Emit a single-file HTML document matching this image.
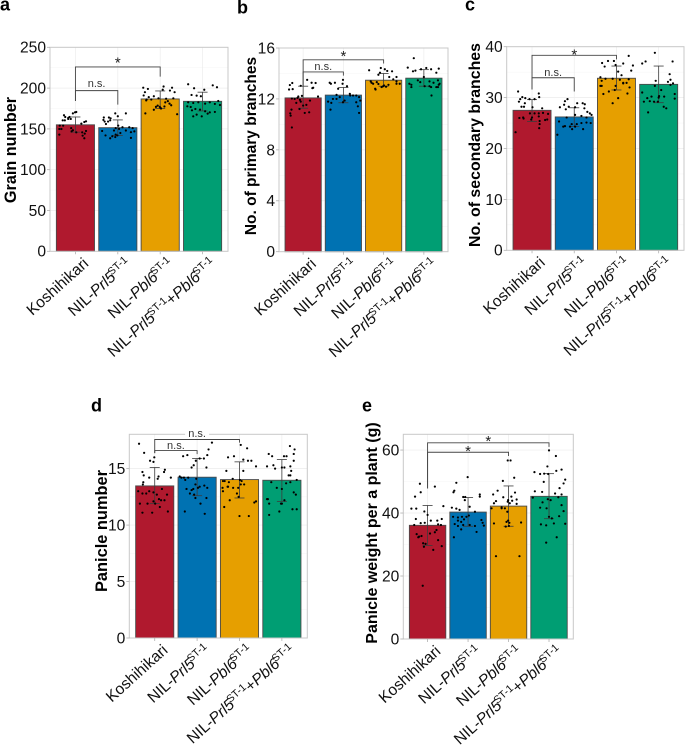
<!DOCTYPE html>
<html lang="en">
<head>
<meta charset="utf-8">
<title>Rice yield traits of NIL lines</title>
<style>
html,body{margin:0;padding:0;background:#fff;}
#figure{display:block;width:685px;height:747px;font-family:"Liberation Sans",Arial,sans-serif;filter:blur(0.3px);}
</style>
</head>
<body>
<svg id="figure" xmlns="http://www.w3.org/2000/svg" width="685" height="747" viewBox="0 0 685 747"></svg>
<script>
const categories = ['Koshihikari','NIL-Prl5ST-1','NIL-Pbl6ST-1','NIL-Prl5ST-1+Pbl6ST-1'];
const barColors = ['#B0192E','#0072B2','#E69F00','#009E73'];

const grainMeans = [155,151.5,186.7,183.8];
const grainUpper = [164.6,161,196.5,195];
const grainLower = [146,142,175,172];
const grainTicks = [0,50,100,150,200,250];
const grainValues = [
[170.3,169,170.7,166.7,164.6,164.6,162.2,162.2,160.5,160.5,158.5,159.3,156.5,154,154,149.9,149.9,143,151,148.3,145.8,145.8,147.5,144.2,141.7,138.5,147,163.4],
[169,169,165.5,164,164,163,161,160.5,159,159,156,154,152,152,151,151,150,148,148,147.5,146,145,143,142,141,142,140,138.5,139,147],
[200.5,199,202,200.5,195,197,198,195,191,189,190,187.5,187,187.5,185,184,178.5,177,177,175,177.5,181,179,173.5,169,168,182.5,186,186,175.5],
[204.7,203.4,201,199.8,191.6,190.8,198,190,184.2,182.6,181.8,182.6,181,182.6,180.6,177.7,176.9,174.4,173.6,171.6,172.8,170.3,170.8,165.4,165.4,167.5,168.7,179.3]
];
const grainJitter = [
[-.01,-.06,.02,-.27,-.24,-.14,-.17,-.11,-.3,-.25,.21,.25,.14,-.37,-.29,-.38,-.33,-.38,-.1,-.06,.02,.16,.25,.22,.17,.21,-.09,-.17],
[-.06,.19,0,-.33,-.21,-.17,-.34,-.18,-.31,-.23,-.28,.01,.11,.27,.35,-.05,.03,-.09,.19,-.37,.31,.06,-.05,-.29,-.13,-.01,-.06,-.18,.31,.39],
[-.4,-.29,.08,.28,-.36,.23,.06,.34,-.39,-.27,-.15,-.04,.14,.31,-.33,.18,-.06,-.01,-.1,.02,.1,.22,.26,-.15,-.35,.4,.12,-.21,-.32,.01],
[-.34,.24,.34,-.2,-.26,-.14,.04,-.04,.37,-.34,-.22,-.1,.06,.17,.29,-.36,-.28,-.17,-.06,.06,-.25,.17,.29,-.22,-.02,-.14,.12,.41]
];

const primaryMeans = [12.08,12.3,13.47,13.63];
const primaryUpper = [13,12.9,14,14.3];
const primaryLower = [11.27,11.7,13,13];
const primaryTicks = [0,4,8,12,16];
const primaryValues = [
[13.25,13.5,13.27,13.25,13.09,13.03,12.77,12.74,12.88,12.85,12.03,12.19,12.24,12,12.08,12.19,11.87,11.48,11.21,11.16,10.9,10.95,10.87,10.69,9.76,11.79,11.53,11.93,11.69],
[13.5,13.27,13.27,13.19,13.19,13,12.8,12.4,12.32,12,12.14,12.27,12.27,12.14,11.79,11.69,12,11.87,11.74,11.74,11.87,11.42,11.16,10.9,12.27],
[14.25,14.43,14.33,14.17,14.2,14.06,13.9,13.72,13.38,13.32,13.19,12.8,12.74,13.17,13.06,13.11,12.93,12.96,13,13.38,13.19,13.54,13.72,13.27,13.19],
[15.2,14.46,14.38,14.17,14.22,14.33,14.43,14.33,14.06,13.46,13.19,13.11,13.72,13.38,13.27,13.46,13.19,13.32,12.93,13,12.93,12.93,12.93,12.27,13.11,13]
];
const primaryJitter = [
[-.27,.1,.21,.31,-.33,-.06,-.26,-.35,.25,.23,-.28,-.12,-.03,-.21,-.14,.37,.17,0,-.09,-.29,.04,.15,-.32,-.31,-.28,-.06,.08,-.08,-.17],
[-.01,-.34,-.21,-.02,-.31,.09,-.13,.16,-.17,-.26,-.09,.24,.32,.39,-.38,-.3,-.17,.03,.32,-.01,.42,.36,-.32,.39,.17],
[-.36,-.07,.03,.21,.09,-.09,-.13,.32,-.32,-.17,-.26,-.21,-.2,-.13,.01,.12,-.05,.06,-.01,.32,.4,.24,.14,-.3,.32],
[-.25,-.4,.37,-.27,-.21,-.07,.06,.18,.31,-.15,-.36,-.31,0,.14,.24,.35,.39,-.09,-.31,.02,.31,.18,.35,.19,.37,.14]
];

const secondaryMeans = [27.5,26.2,33.8,32.6];
const secondaryUpper = [29.6,28,36.2,36.2];
const secondaryLower = [25.3,24.3,31.5,29];
const secondaryTicks = [0,10,20,30,40];
const secondaryValues = [
[31.2,30.8,29.7,30.1,29.9,29.7,29.7,30.1,29.2,28.9,28.2,28.2,28.1,27.9,26.9,26.9,26.9,27,26.8,26,26.1,25.9,26.1,26.3,25.6,25.4,25.7,24.8,24,23.2,25.7],
[29.7,29.3,28.6,28.1,28.2,28.9,28.9,28.7,28.1,27.9,27.7,27.2,26.9,25.3,26.6,26.4,26.1,26.6,26.1,24.3,24.4,24.8,24.3,24.3,24.8,23.8,23.8,25,25.1,22.7,25],
[38.2,37.2,37.2,36.8,36.1,36.4,36.7,36.3,35.3,34,33.3,33.7,33.7,33.5,32.3,32.9,32.9,33.6,30.7,31.2,32.3,32,30.8,29.9,28.9,34.4,32.3,32.8,31.5,35.1],
[38.8,37.1,37.1,36.7,34.6,33.3,33.5,33.1,32.8,32.3,31,29.9,30.2,30.3,30.2,30.7,29.8,29.3,29.2,29.2,29.2,28.2,27.9,27.1,30,32.5,31.5]
];
const secondaryJitter = [
[-.33,.16,-.28,-.23,-.16,-.06,.06,.17,-.31,-.17,-.19,-.25,.01,.24,.06,-.05,.16,.26,.38,-.3,-.21,-.2,0,.16,.31,.18,.36,.18,.17,-.39,-.02],
[-.16,-.22,-.24,-.34,-.13,.07,.2,.25,.02,.24,-.2,.31,.37,-.36,.02,.17,.29,.41,-.18,-.26,-.22,-.06,-.1,.02,.06,-.05,.21,.17,.29,-.4,.39],
[.29,-.06,-.2,-.34,-.28,-.02,.16,.39,.35,-.38,-.35,-.26,-.09,.08,-.35,.16,.24,.29,-.31,-.18,-.02,.31,.26,.04,-.09,.12,-.38,.16,-.04,.04],
[-.09,.33,-.31,-.39,.26,-.07,.28,.22,.34,-.09,-.39,-.27,-.17,.01,.13,.38,.38,-.21,-.35,-.11,-.02,.12,.18,-.25,0,.28,.06]
];

const panicleMeans = [13.47,14.24,14.03,13.97];
const panicleUpper = [15.1,15.9,15.6,15.8];
const panicleLower = [11.9,12.6,12.4,12.1];
const panicleTicks = [0,5,10,15];
const panicleValues = [
[17.2,16.4,16,15.7,15.6,14.7,14.9,14.4,14.7,14.2,14.1,14.2,14.3,13.8,13.6,13,12.8,12.8,13,13.2,12.9,12.7,12.7,12.3,12.2,11.9,11.9,12.1,11.6,11.1,11.1,11.2,12.2,11.9],
[17.3,16.7,16.2,16.2,16.1,15.9,15.9,15.7,15.3,15.1,15.1,14.3,14.2,14.2,14,14.1,13.2,13.1,13.4,13.5,13.3,12.8,12.7,12.4,12.4,11.9,11.2,11,13.3,14.2,13.2,13.6],
[17.1,16.8,16,16.1,15.8,15.7,15.7,15.2,14.8,14.8,14.1,13.9,13.9,13.8,13.9,13.3,13,13.4,13.3,13.3,13.6,13.6,12.2,11.6,12.8,12.5,12,12.1,10.8,10.8,14,13.4],
[17,16.3,16.7,16.3,16.1,16.1,16.1,15.7,15.2,15.3,15,15.1,15.1,15.2,14.8,14.4,14.4,13.8,14,13.7,13.8,13.3,13.2,12.3,12.3,11.9,12.9,12.7,11.9,12.2,11.4,11.4,10.9,11.2,11.9]
];
const panicleJitter = [
[-.37,-.25,-.01,-.11,-.03,-.29,.24,-.26,.22,-.13,.07,.38,.09,-.27,-.28,-.39,-.29,-.2,-.13,.17,-.03,.05,.29,.1,.23,-.35,-.17,-.03,.12,-.29,-.06,.31,.15,.01],
[.35,.27,.24,-.23,-.33,.06,.16,-.03,-.08,.22,-.13,-.41,-.31,-.21,-.28,-.02,-.25,-.13,.06,.17,.24,-.17,-.07,-.04,.22,.08,-.29,.18,.02,-.37,-.09,-.04],
[.03,.18,-.27,-.13,.09,.2,.28,.39,-.31,.09,-.16,-.39,-.35,-.25,.05,-.4,-.39,-.27,-.15,-.03,.11,.03,-.23,-.36,-.06,-.02,.35,.39,0,.22,.01,-.28],
[.19,-.31,.3,.28,-.23,.05,.11,.28,-.35,-.2,-.16,0,.06,.2,.22,.16,.2,-.25,.35,.1,.2,-.12,0,-.35,-.33,-.3,.28,.33,0,.06,.25,.35,-.3,-.06,-.02]
];

const weightMeans = [36.1,40.3,42.2,45.3];
const weightUpper = [42.4,44.9,48.6,52.5];
const weightLower = [29.7,35.8,35.8,38.2];
const weightTicks = [0,20,40,60];
const weightValues = [
[49.3,48.4,46.6,45.2,42.2,41.4,41.4,40.5,38.1,39.4,36.8,36.9,37.6,37.6,38.1,36.2,36.4,36.2,34.6,33.9,33.3,32.3,32.7,33.5,30.4,30.2,31.4,29.5,29.3,28.3,16.9,32.5],
[51.4,49.6,47.1,46.6,45.1,45.1,45.9,45.2,44.1,42,41.7,41.4,41,39.2,40.4,38.8,38.6,38.8,38.8,37.8,37.6,37.2,38,36.9,36.5,35.9,36.2,35.9,36,34.8,36.2,34,32.3],
[56.7,56.7,51.2,50.2,47.1,45.9,46.5,45.2,45,43.8,44.1,43.6,44.3,43.9,43.1,41.5,41.8,41.5,43.1,40.4,36.7,37,35.7,35.9,37.6,36.9,37.2,26.3,26.3,41.5,42.9],
[59.9,58.1,54.8,53,52.4,53.8,53.4,52.5,52.4,50.6,49.4,49.9,46.9,46.7,46.2,47.9,45.9,44.4,44.9,45,43.4,44.1,41.7,42.5,40.6,41.5,39,38.8,38.3,36.4,36.1,36.7,36.6,32.3,30.6]
];
const weightJitter = [
[-.19,.18,-.17,-.31,.39,-.4,-.28,-.08,-.29,0,-.17,-.07,.08,.24,.35,-.33,.26,.33,.22,.18,-.27,-.23,-.15,.06,-.11,-.05,.26,.35,-.09,.14,-.12,-.21],
[-.01,-.29,-.34,-.36,-.12,-.07,.29,.29,-.08,.04,-.4,-.29,-.21,.02,.17,-.37,-.25,-.15,-.04,.33,-.25,-.17,-.1,.36,-.33,-.25,-.12,.17,.39,-.17,.04,.21,-.35],
[-.02,.05,.14,-.14,-.27,-.38,.16,.07,-.13,-.31,-.01,-.02,.2,.09,-.36,-.42,-.17,-.09,.03,-.03,-.36,.31,-.07,.01,-.01,.02,-.05,-.31,.27,-.17,.2],
[0,.17,-.04,-.36,-.22,.31,.18,-.12,-.02,.4,.36,-.13,-.35,-.17,.15,.26,.31,-.03,-.4,.23,-.16,.04,-.22,.31,.36,-.06,.25,0,.07,-.2,-.07,.12,.4,.19,-.07]
];

const grainBrackets = [
{from:0,to:2,y:225.9,leftEnd:184.2,rightEnd:214,label:'*',labelY:233},
{from:0,to:1,y:196.9,leftEnd:184.2,rightEnd:179.7,label:'n.s.',labelY:206.3}
];
const primaryBrackets = [
{from:0,to:2,y:15.07,leftEnd:13,rightEnd:14.78,label:'*',labelY:15.45},
{from:0,to:1,y:14.12,leftEnd:13,rightEnd:13.83,label:'n.s.',labelY:14.56}
];
const secondaryBrackets = [
{from:0,to:2,y:38.3,leftEnd:31.6,rightEnd:37.5,label:'*',labelY:38.7},
{from:0,to:1,y:33.9,leftEnd:31.6,rightEnd:31.2,label:'n.s.',labelY:35}
];
const panicleBrackets = [
{from:0,to:2,y:17.58,leftEnd:16.37,rightEnd:17.3,label:'n.s.',labelY:18.14,mask:true},
{from:0,to:1,y:16.6,leftEnd:16.37,rightEnd:16.28,label:'n.s.',labelY:17.07}
];
const weightBrackets = [
{from:0,to:3,y:62.3,leftEnd:47.8,rightEnd:61,label:'*',labelY:63.2},
{from:0,to:2,y:59.3,leftEnd:47.8,rightEnd:58.1,label:'*',labelY:60}
];

const panels = [
{id:'a',title:'Grain number',titleSize:16.2,left:50,right:228,top:47.3,bottom:251.3,yMax:250,ticks:grainTicks,means:grainMeans,upper:grainUpper,lower:grainLower,values:grainValues,jitter:grainJitter,brackets:grainBrackets,letterX:0,letterY:10.5,titleX:16,titleY:150},
{id:'b',title:'No. of primary branches',titleSize:15.5,left:279,right:448,top:48,bottom:251.7,yMax:16,ticks:primaryTicks,means:primaryMeans,upper:primaryUpper,lower:primaryLower,values:primaryValues,jitter:primaryJitter,brackets:primaryBrackets,letterX:237,letterY:13.5,titleX:256,titleY:146},
{id:'c',title:'No. of secondary branches',titleSize:15.9,left:506.7,right:684,top:46.7,bottom:250.3,yMax:40,ticks:secondaryTicks,means:secondaryMeans,upper:secondaryUpper,lower:secondaryLower,values:secondaryValues,jitter:secondaryJitter,brackets:secondaryBrackets,letterX:465,letterY:10.5,titleX:480,titleY:145},
{id:'d',title:'Panicle number',titleSize:16.4,left:129.3,right:307.3,top:434.3,bottom:638,yMax:18.04,ticks:panicleTicks,means:panicleMeans,upper:panicleUpper,lower:panicleLower,values:panicleValues,jitter:panicleJitter,brackets:panicleBrackets,letterX:91,letterY:411.7,titleX:107,titleY:531},
{id:'e',title:'Panicle weight per a plant (g)',titleSize:16,left:403.3,right:573.3,top:434.3,bottom:639,yMax:65,ticks:weightTicks,means:weightMeans,upper:weightUpper,lower:weightLower,values:weightValues,jitter:weightJitter,brackets:weightBrackets,letterX:362,letterY:411.7,titleX:377,titleY:533}
];

const SVG_NS = 'http://www.w3.org/2000/svg';
const root = document.getElementById('figure');

function add(parent, tag, name, attrs, text) {
  const el = document.createElementNS(SVG_NS, tag);
  
  
  for (const k in attrs) el.setAttribute(k, attrs[k]);
  if (text !== undefined) el.textContent = text;
  parent.appendChild(el);
  return el;
}

function addCategoryLabel(parent, label, x, y) {
  const t = add(parent, 'text', 'x-tick-label', {
    x: x, y: y, 'text-anchor': 'end', 'font-size': 15.7, fill: '#111',
    transform: 'rotate(-42 ' + x + ' ' + y + ')'
  });
  const parts = label.split(/(Prl5|Pbl6|ST-1)/).filter(Boolean);
  let raised = false;
  parts.forEach(function (part) {
    const span = document.createElementNS(SVG_NS, 'tspan');
    span.textContent = part;
    if (part === 'ST-1') {
      span.setAttribute('font-size', '10.6');
      span.setAttribute('dy', '-5.5');
      span.setAttribute('dx', '-2');
      raised = true;
    } else {
      if (raised) span.setAttribute('dy', '5.5');
      raised = false;
      if (part === 'Prl5' || part === 'Pbl6') span.setAttribute('font-style', 'italic');
    }
    t.appendChild(span);
  });
}

function drawPanel(p) {
  const g = add(root, 'g', 'panel-' + p.id, {});
  const unit = (p.right - p.left) / (categories.length - 1 + 1.2);
  const xScale = function (i) { return p.left + unit * (0.6 + i); };
  const yScale = function (v) { return p.bottom - (v / p.yMax) * (p.bottom - p.top); };
  const barW = unit * 0.9;

  add(g, 'text', 'panel-letter', {x: p.letterX, y: p.letterY, 'font-size': 18, 'font-weight': 'bold', fill: '#000'}, p.id);

  p.ticks.forEach(function (t, i) {
    add(g, 'line', 'major-gridline', {x1: p.left, x2: p.right, y1: yScale(t), y2: yScale(t), stroke: '#ececec', 'stroke-width': 0.7});
    if (i < p.ticks.length - 1) {
      const mid = yScale((t + p.ticks[i + 1]) / 2);
      add(g, 'line', 'minor-gridline', {x1: p.left, x2: p.right, y1: mid, y2: mid, stroke: '#f5f5f5', 'stroke-width': 0.5});
    }
  });
  categories.forEach(function (c, i) {
    add(g, 'line', 'vertical-gridline', {x1: xScale(i), x2: xScale(i), y1: p.top, y2: p.bottom, stroke: '#ececec', 'stroke-width': 0.7});
  });

  p.means.forEach(function (m, i) {
    add(g, 'rect', 'bar-' + i, {
      x: xScale(i) - barW / 2, y: yScale(m), width: barW, height: yScale(0) - yScale(m),
      fill: barColors[i], stroke: '#4a4a4a', 'stroke-width': 0.9
    });
  });

  add(g, 'rect', 'panel-border', {x: p.left, y: p.top, width: p.right - p.left, height: p.bottom - p.top, fill: 'none', stroke: '#c8c8c8', 'stroke-width': 1});

  p.ticks.forEach(function (t) {
    add(g, 'line', 'y-tick', {x1: p.left - 3, x2: p.left, y1: yScale(t), y2: yScale(t), stroke: '#b0b0b0', 'stroke-width': 0.8});
    add(g, 'text', 'y-tick-label', {x: p.left - 4, y: yScale(t) + 5.4, 'text-anchor': 'end', 'font-size': 15.6, fill: '#111'}, t);
  });

  categories.forEach(function (c, i) {
    add(g, 'line', 'x-tick', {x1: xScale(i), x2: xScale(i), y1: p.bottom, y2: p.bottom + 3, stroke: '#b0b0b0', 'stroke-width': 0.8});
    addCategoryLabel(g, c, xScale(i) + 14, p.bottom + 13.5);
  });

  p.means.forEach(function (m, i) {
    const x = xScale(i);
    const eb = add(g, 'g', 'error-bar-' + i, {stroke: '#3c3c3c', 'stroke-width': 0.8});
    add(eb, 'line', 'error-stem', {x1: x, x2: x, y1: yScale(p.upper[i]), y2: yScale(p.lower[i])});
    add(eb, 'line', 'error-cap-upper', {x1: x - 5, x2: x + 5, y1: yScale(p.upper[i]), y2: yScale(p.upper[i])});
    add(eb, 'line', 'error-cap-lower', {x1: x - 5, x2: x + 5, y1: yScale(p.lower[i]), y2: yScale(p.lower[i])});
  });

  p.values.forEach(function (series, i) {
    const pts = add(g, 'g', 'points-' + i, {fill: '#000'});
    series.forEach(function (v, k) {
      add(pts, 'circle', 'data-point', {cx: xScale(i + p.jitter[i][k]), cy: yScale(v), r: 1.1});
    });
  });

  p.brackets.forEach(function (b) {
    const x1 = xScale(b.from);
    const x2 = xScale(b.to);
    const d = 'M' + x1 + ' ' + yScale(b.leftEnd) + 'L' + x1 + ' ' + yScale(b.y) + 'L' + x2 + ' ' + yScale(b.y) + 'L' + x2 + ' ' + yScale(b.rightEnd);
    add(g, 'path', 'significance-bracket', {d: d, fill: 'none', stroke: '#444', 'stroke-width': 0.9});
    const cx = (x1 + x2) / 2;
    if (b.mask) {
      add(g, 'rect', 'label-mask', {x: cx - 12, y: yScale(b.labelY) - 6, width: 24, height: 10, fill: '#fff'});
    }
    if (b.label === '*') {
      add(g, 'text', 'significance-star', {x: cx, y: yScale(b.labelY) + 6.2, 'text-anchor': 'middle', 'font-size': 15, fill: '#222'}, b.label);
    } else {
      add(g, 'text', 'significance-label', {x: cx, y: yScale(b.labelY) + 3.8, 'text-anchor': 'middle', 'font-size': 11, fill: '#333'}, b.label);
    }
  });

  add(g, 'text', 'y-axis-title', {
    x: p.titleX, y: p.titleY, 'text-anchor': 'middle', 'font-size': p.titleSize, 'font-weight': 'bold', fill: '#000',
    transform: 'rotate(-90 ' + p.titleX + ' ' + p.titleY + ')'
  }, p.title);
}

panels.forEach(drawPanel);
</script>
</body>
</html>
